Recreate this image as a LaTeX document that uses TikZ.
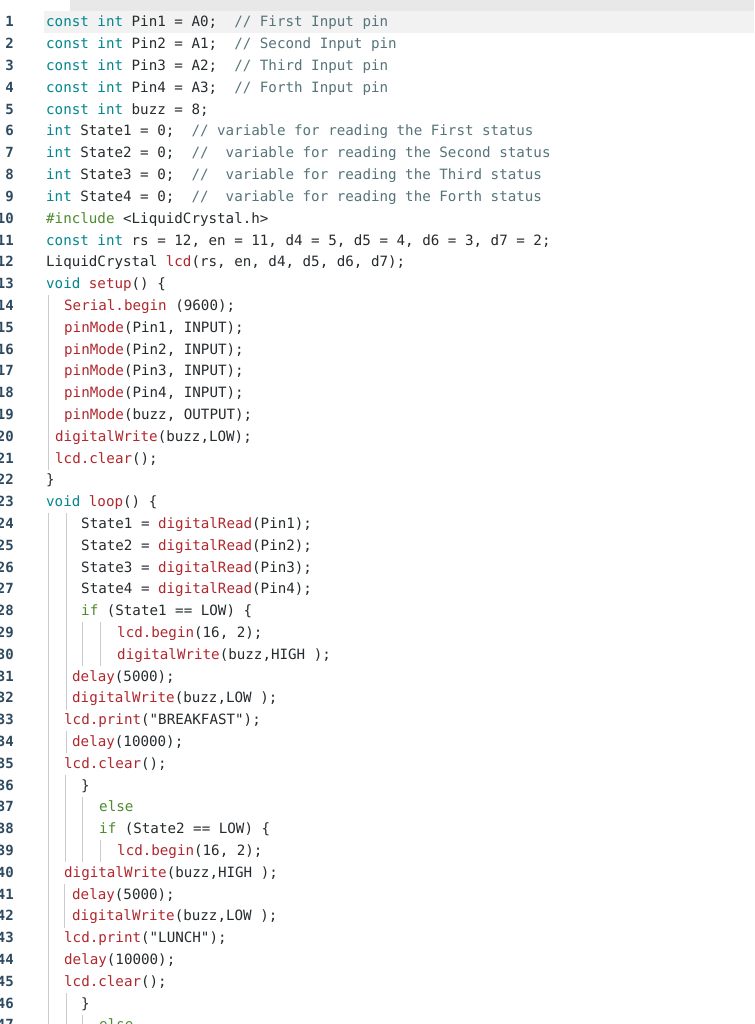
\documentclass[tikz,border=0pt]{standalone}
\usepackage{fontspec}
\setmonofont{DejaVu Sans Mono}
\definecolor{kw}{HTML}{00878F}
\definecolor{fn}{HTML}{B0282E}
\definecolor{cm}{HTML}{56747A}
\definecolor{gr}{HTML}{4E8A2E}
\definecolor{tx}{HTML}{262B2E}
\definecolor{ln}{HTML}{2E4A60}
\definecolor{guide}{HTML}{C9CDCF}
\newcommand{\K}[1]{\textcolor{kw}{#1}}
\newcommand{\F}[1]{\textcolor{fn}{#1}}
\newcommand{\Cm}[1]{\textcolor{cm}{#1}}
\newcommand{\G}[1]{\textcolor{gr}{#1}}
\newcommand{\LY}[1]{-(27+(#1-1)*21.8)}
\tikzset{
  code/.style={anchor=base west,inner sep=0pt,text=tx,font=\ttfamily\fontsize{14.2}{16}\selectfont},
  lnum/.style={anchor=base east,inner sep=0pt,text=ln,font=\ttfamily\bfseries\fontsize{14}{16}\selectfont},
  gline/.style={draw=guide,line width=1pt}
}
\begin{document}
\begin{tikzpicture}[x=1pt,y=1pt]
\useasboundingbox (0,0) rectangle (754,-1024);
\clip (0,0) rectangle (754,-1024);
\fill[white] (0,0) rectangle (754,-1024);
\fill[black!9] (70,0) rectangle (754,-11);
\fill[black!5] (44,-11) rectangle (754,-33);
% line numbers
\foreach \n in {1,...,47}{
  \node[lnum] (n\n) at (14,{\LY{\n}}) {\n};
}
% guides
\foreach \gx/\a/\b in {48/14/21, 48/24/47, 66/24/32, 66/34/34, 82/29/30, 100/29/30, 65/36/39, 82/37/39, 100/39/39, 64/41/42, 66/46/47, 82/47/47}{
  \draw[gline] (\gx,{\LY{\a}+15}) -- (\gx,{\LY{\b}-6.8});
}
\node[code] (l1) at (46,{\LY{1}}) {\K{const int} Pin1 = A0;~~\Cm{// First Input pin}};
\node[code] (l2) at (46,{\LY{2}}) {\K{const int} Pin2 = A1;~~\Cm{// Second Input pin}};
\node[code] (l3) at (46,{\LY{3}}) {\K{const int} Pin3 = A2;~~\Cm{// Third Input pin}};
\node[code] (l4) at (46,{\LY{4}}) {\K{const int} Pin4 = A3;~~\Cm{// Forth Input pin}};
\node[code] (l5) at (46,{\LY{5}}) {\K{const int} buzz = 8;};
\node[code] (l6) at (46,{\LY{6}}) {\K{int} State1 = 0;~~\Cm{// variable for reading the First status}};
\node[code] (l7) at (46,{\LY{7}}) {\K{int} State2 = 0;~~\Cm{//~~variable for reading the Second status}};
\node[code] (l8) at (46,{\LY{8}}) {\K{int} State3 = 0;~~\Cm{//~~variable for reading the Third status}};
\node[code] (l9) at (46,{\LY{9}}) {\K{int} State4 = 0;~~\Cm{//~~variable for reading the Forth status}};
\node[code] (l10) at (46,{\LY{10}}) {\G{\#include} <LiquidCrystal.h>};
\node[code] (l11) at (46,{\LY{11}}) {\K{const int} rs = 12, en = 11, d4 = 5, d5 = 4, d6 = 3, d7 = 2;};
\node[code] (l12) at (46,{\LY{12}}) {LiquidCrystal \F{lcd}(rs, en, d4, d5, d6, d7);};
\node[code] (l13) at (46,{\LY{13}}) {\K{void} \F{setup}() \{};
\node[code] (l14) at (64,{\LY{14}}) {\F{Serial.begin} (9600);};
\node[code] (l15) at (64,{\LY{15}}) {\F{pinMode}(Pin1, INPUT);};
\node[code] (l16) at (64,{\LY{16}}) {\F{pinMode}(Pin2, INPUT);};
\node[code] (l17) at (64,{\LY{17}}) {\F{pinMode}(Pin3, INPUT);};
\node[code] (l18) at (64,{\LY{18}}) {\F{pinMode}(Pin4, INPUT);};
\node[code] (l19) at (64,{\LY{19}}) {\F{pinMode}(buzz, OUTPUT);};
\node[code] (l20) at (55,{\LY{20}}) {\F{digitalWrite}(buzz,LOW);};
\node[code] (l21) at (55,{\LY{21}}) {\F{lcd.clear}();};
\node[code] (l22) at (46,{\LY{22}}) {\}};
\node[code] (l23) at (46,{\LY{23}}) {\K{void} \F{loop}() \{};
\node[code] (l24) at (81,{\LY{24}}) {State1 = \F{digitalRead}(Pin1);};
\node[code] (l25) at (81,{\LY{25}}) {State2 = \F{digitalRead}(Pin2);};
\node[code] (l26) at (81,{\LY{26}}) {State3 = \F{digitalRead}(Pin3);};
\node[code] (l27) at (81,{\LY{27}}) {State4 = \F{digitalRead}(Pin4);};
\node[code] (l28) at (81,{\LY{28}}) {\G{if} (State1 == LOW) \{};
\node[code] (l29) at (117,{\LY{29}}) {\F{lcd.begin}(16, 2);};
\node[code] (l30) at (117,{\LY{30}}) {\F{digitalWrite}(buzz,HIGH );};
\node[code] (l31) at (72,{\LY{31}}) {\F{delay}(5000);};
\node[code] (l32) at (72,{\LY{32}}) {\F{digitalWrite}(buzz,LOW );};
\node[code] (l33) at (64,{\LY{33}}) {\F{lcd.print}("BREAKFAST");};
\node[code] (l34) at (72,{\LY{34}}) {\F{delay}(10000);};
\node[code] (l35) at (64,{\LY{35}}) {\F{lcd.clear}();};
\node[code] (l36) at (81,{\LY{36}}) {\}};
\node[code] (l37) at (99,{\LY{37}}) {\G{else}};
\node[code] (l38) at (99,{\LY{38}}) {\G{if} (State2 == LOW) \{};
\node[code] (l39) at (117,{\LY{39}}) {\F{lcd.begin}(16, 2);};
\node[code] (l40) at (64,{\LY{40}}) {\F{digitalWrite}(buzz,HIGH );};
\node[code] (l41) at (72,{\LY{41}}) {\F{delay}(5000);};
\node[code] (l42) at (72,{\LY{42}}) {\F{digitalWrite}(buzz,LOW );};
\node[code] (l43) at (64,{\LY{43}}) {\F{lcd.print}("LUNCH");};
\node[code] (l44) at (64,{\LY{44}}) {\F{delay}(10000);};
\node[code] (l45) at (64,{\LY{45}}) {\F{lcd.clear}();};
\node[code] (l46) at (81,{\LY{46}}) {\}};
\node[code] (l47) at (99,{\LY{47}}) {\G{else}};
\end{tikzpicture}
\end{document}
